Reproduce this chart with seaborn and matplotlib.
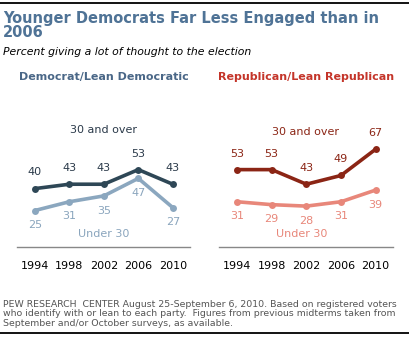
import matplotlib
matplotlib.use("Agg")
import matplotlib.pyplot as plt
import seaborn as sns
import pandas as pd

years = ["1994", "1998", "2002", "2006", "2010"]
dem_30_over = [40, 43, 43, 53, 43]
dem_under_30 = [25, 31, 35, 47, 27]
rep_30_over = [53, 53, 43, 49, 67]
rep_under_30 = [31, 29, 28, 31, 39]

sns.set_style("white")
plt.rcParams['font.family'] = ['DejaVu Sans']

W, H = 409, 337
fig = plt.figure(figsize=(W / 100, H / 100), dpi=100)

def fx(px):
    return px / W

def fy(py):
    return 1 - py / H

# top and bottom rules
fig.add_artist(plt.Line2D([0, 1], [fy(3), fy(3)], color="black", lw=1.3))
fig.add_artist(plt.Line2D([0, 1], [fy(333), fy(333)], color="black", lw=1.3))

title_col = "#4f7396"
fig.text(fx(3), fy(11), "Younger Democrats Far Less Engaged than in\n2006", fontsize=10.5,
         fontweight="bold", color=title_col, va="top", ha="left", linespacing=0.95)
fig.text(fx(3), fy(52), "Percent giving a lot of thought to the election", fontsize=7.8,
         style="italic", color="black", va="center", ha="left")

footer = ("PEW RESEARCH  CENTER August 25-September 6, 2010. Based on registered voters\n"
          "who identify with or lean to each party.  Figures from previous midterms taken from\n"
          "September and/or October surveys, as available.")
fig.text(fx(3), fy(314), footer, fontsize=6.75, color="#555555", va="center", ha="left",
         linespacing=1.12)

panels = [
    dict(left=17, right=190, title="Democrat/Lean Democratic", tcol="#4a6787", tx=104,
         top=dem_30_over, bot=dem_under_30, topc="#2e4756", botc="#8ba7bf",
         toptxt="#2b3a4a", bottxt="#8aa5bd", lbl_top=(104, 130), lbl_bot=(104, 234)),
    dict(left=219, right=393, title="Republican/Lean Republican", tcol="#c4352a", tx=306,
         top=rep_30_over, bot=rep_under_30, topc="#8b2515", botc="#e8877a",
         toptxt="#8b2515", bottxt="#e8877a", lbl_top=(305, 132), lbl_bot=(302, 234)),
]

y0_px, ytop_px = 247, 120
ymax = (y0_px - ytop_px) / 1.46

for p in panels:
    ax = fig.add_axes([fx(p["left"]), fy(y0_px), (p["right"] - p["left"]) / W, (y0_px - ytop_px) / H])
    df = pd.DataFrame({
        "x": list(range(len(years))) * 2,
        "value": p["top"] + p["bot"],
        "group": ["30 and over"] * len(years) + ["Under 30"] * len(years),
    })
    sns.lineplot(data=df, x="x", y="value", hue="group",
                 palette={"30 and over": p["topc"], "Under 30": p["botc"]},
                 marker="o", markersize=5, markeredgewidth=0, linewidth=2.6,
                 legend=False, ax=ax)
    for i, v in enumerate(p["top"]):
        ax.annotate(str(v), (i, v), xytext=(0, 8), textcoords="offset points",
                    ha="center", va="bottom", fontsize=8, color=p["toptxt"])
    for i, v in enumerate(p["bot"]):
        ax.annotate(str(v), (i, v), xytext=(0, -7), textcoords="offset points",
                    ha="center", va="top", fontsize=8, color=p["bottxt"])
    ax.set_xlim(-0.52, 4.5)
    ax.set_ylim(0, ymax)
    ax.set_xticks(range(len(years)))
    ax.set_xticklabels(years, fontsize=8, color="black")
    ax.tick_params(axis="x", length=0, pad=10)
    ax.set_yticks([])
    ax.set_xlabel("")
    ax.set_ylabel("")
    for s in ["top", "left", "right"]:
        ax.spines[s].set_visible(False)
    ax.spines["bottom"].set_color("#888888")
    ax.spines["bottom"].set_linewidth(1)
    ax.patch.set_alpha(0)
    fig.text(fx(p["tx"]), fy(77), p["title"], fontsize=8, fontweight="bold",
             color=p["tcol"], ha="center", va="center")
    fig.text(fx(p["lbl_top"][0]), fy(p["lbl_top"][1]), "30 and over", fontsize=8,
             color=p["toptxt"], ha="center", va="center")
    fig.text(fx(p["lbl_bot"][0]), fy(p["lbl_bot"][1]), "Under 30", fontsize=8,
             color=p["bottxt"], ha="center", va="center")

fig.savefig("out.png", dpi=100)
